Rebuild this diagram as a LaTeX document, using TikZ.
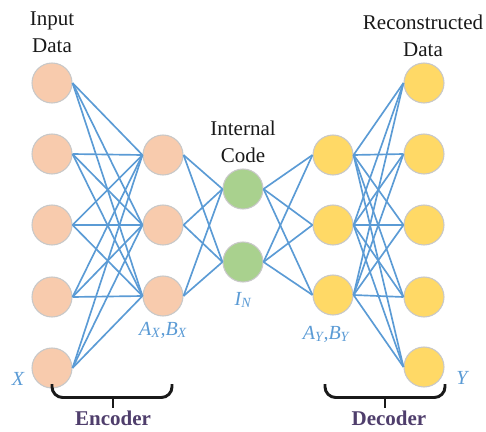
\documentclass[tikz,border=0pt]{standalone}
\usepackage{fontspec}
\setmainfont{Liberation Serif}
\definecolor{peach}{HTML}{F8CBAD}
\definecolor{codegreen}{HTML}{A9D18E}
\definecolor{gold}{HTML}{FFD966}
\definecolor{linkblue}{HTML}{5B9BD5}
\definecolor{rimgray}{HTML}{C8C8C8}
\definecolor{labpurple}{HTML}{4F3E6C}
\begin{document}
\begin{tikzpicture}[x=0.75pt,y=-0.75pt,
  neuron/.style={circle,draw=rimgray,line width=0.8pt,minimum size=30pt,inner sep=0pt},
  inn/.style={neuron,fill=peach},
  cod/.style={neuron,fill=codegreen},
  outn/.style={neuron,fill=gold},
  link/.style={draw=linkblue,line width=1.25pt},
  title/.style={align=center,font=\fontsize{15.75}{20}\selectfont,text=black!90},
  varlab/.style={text=linkblue,font=\fontsize{15}{18}\selectfont\itshape},
  brace/.style={draw=black!90,line width=2.2pt,rounded corners=8pt},
  part/.style={text=labpurple,font=\fontsize{15.75}{18}\selectfont\bfseries}
]
\useasboundingbox (0,0) rectangle (486,432);
% input layer
\foreach \i/\y in {1/83,2/154,3/225,4/297,5/368} \node[inn] (i\i) at (52,\y) {};
% encoder hidden
\foreach \i/\y in {1/155,2/225,3/296} \node[inn] (h\i) at (163,\y) {};
% code
\foreach \i/\y in {1/189,2/262} \node[cod] (c\i) at (243,\y) {};
% decoder hidden
\foreach \i/\y in {1/155,2/225,3/295} \node[outn] (d\i) at (333,\y) {};
% output
\foreach \i/\y in {1/83,2/154,3/225,4/297,5/367} \node[outn] (o\i) at (424,\y) {};
% links
\foreach \a in {1,...,5} \foreach \b in {1,2,3} \draw[link] (i\a.east) -- (h\b.west);
\foreach \a in {1,2,3} \foreach \b in {1,2} \draw[link] (h\a.east) -- (c\b.west);
\foreach \a in {1,2} \foreach \b in {1,2,3} \draw[link] (c\a.east) -- (d\b.west);
\foreach \a in {1,2,3} \foreach \b in {1,...,5} \draw[link] (d\a.east) -- (o\b.west);
% titles
\node[title] (tin) at (52,32) {Input\\Data};
\node[title] (tcode) at (243,142) {Internal\\Code};
\node[title] (tout) at (423,36) {Reconstructed\\Data};
% variable labels
\node[varlab] (lx) at (18,379) {X};
\node[varlab] (lax) at (163,330) {A\textsubscript{X},B\textsubscript{X}};
\node[varlab] (lin) at (243,300) {I\textsubscript{N}};
\node[varlab] (lay) at (326,334) {A\textsubscript{Y},B\textsubscript{Y}};
\node[varlab] (ly) at (462,378) {Y};
% braces
\draw[brace] (52,384) |- (113,397.5) -| (172,384);
\draw[brace,rounded corners=0pt] (113,397.5) -- (113,408);
\draw[brace] (325,384) |- (385,397.5) -| (445,384);
\draw[brace,rounded corners=0pt] (385,397.5) -- (385,408);
\node[part] (enc) at (113,418) {Encoder};
\node[part] (dec) at (389,418) {Decoder};
\end{tikzpicture}
\end{document}
